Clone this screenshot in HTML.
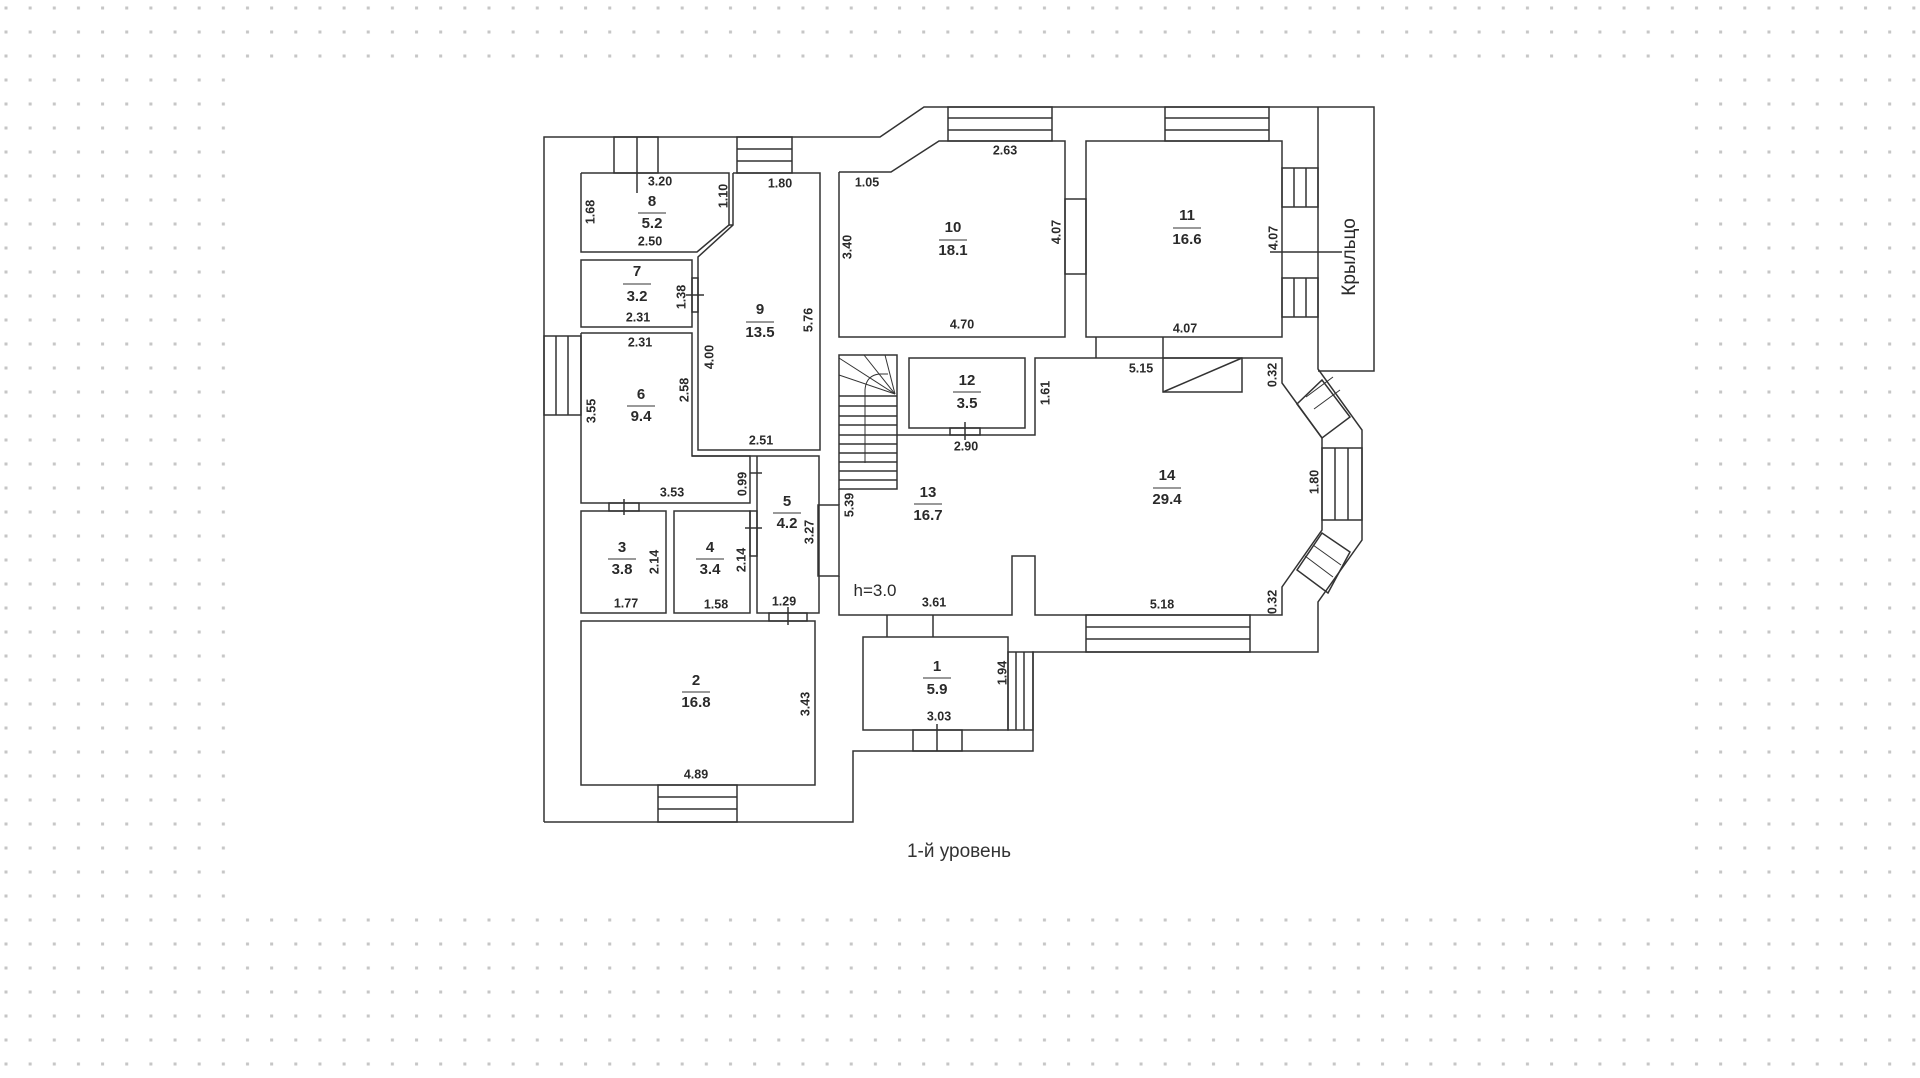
<!DOCTYPE html>
<html><head><meta charset="utf-8"><style>
html,body{margin:0;padding:0;background:#fff;}
svg{display:block}
text{font-family:"Liberation Sans",Arial,sans-serif;fill:#2a2a2a;}
.d{font-size:12.5px;font-weight:bold;text-anchor:middle;dominant-baseline:middle;}
.n{font-size:15px;font-weight:bold;text-anchor:middle;dominant-baseline:middle;}
</style></head><body>
<svg width="1920" height="1078" viewBox="0 0 1920 1078" xmlns="http://www.w3.org/2000/svg">
<defs>
<pattern id="dots" x="0" y="0" width="24.15" height="24" patternUnits="userSpaceOnUse">
<rect x="4.5" y="6.5" width="3" height="3" fill="#c6c6c6"/>
</pattern>
</defs>
<rect x="0" y="0" width="1920" height="68" fill="url(#dots)"/>
<rect x="0" y="68" width="232" height="840" fill="url(#dots)"/>
<rect x="1688" y="68" width="232" height="840" fill="url(#dots)"/>
<rect x="0" y="908" width="1920" height="170" fill="url(#dots)"/>

<g fill="none" stroke="#333" stroke-width="1.5">
<polyline points="544,822 544,137 880,137 924,107 1374,107 1374,371 1318,371"/>
<polyline points="1318,107 1318,369 1362,430 1362,540 1318,602 1318,652 1033,652 1033,751 853,751 853,822 544,822"/>
<polyline points="581,173 729,173 729,225 697,252 581,252 581,173"/>
<polyline points="733,173 820,173 820,450 698,450 698,257 733,225 733,173"/>
<line x1="729" y1="225" x2="733" y2="225"/>
<rect x="614" y="137" width="44" height="36"/>
<line x1="637" y1="137" x2="637" y2="193"/>
<rect x="737" y="137" width="55" height="36"/>
<line x1="737" y1="149" x2="792" y2="149"/><line x1="737" y1="161" x2="792" y2="161"/>
<rect x="581" y="260" width="111" height="67"/>
<rect x="692" y="278" width="6" height="34"/>
<line x1="686" y1="295" x2="704" y2="295"/>
<polyline points="581,333 692,333 692,456 750,456 750,503 581,503 581,333"/>
<rect x="544" y="336" width="37" height="79"/>
<line x1="556" y1="336" x2="556" y2="415"/><line x1="568" y1="336" x2="568" y2="415"/>
<line x1="750" y1="473" x2="762" y2="473"/>
<polyline points="692,456 819,456 819,613 757,613 757,456"/>
<rect x="750" y="511" width="7" height="45"/>
<line x1="745" y1="528" x2="762" y2="528"/>
<rect x="581" y="511" width="85" height="102"/>
<rect x="674" y="511" width="76" height="102"/>
<rect x="609" y="503" width="30" height="8"/>
<line x1="624" y1="499" x2="624" y2="515"/>
<rect x="581" y="621" width="234" height="164"/>
<rect x="769" y="613" width="38" height="8"/>
<line x1="788" y1="607" x2="788" y2="625"/>
<rect x="658" y="785" width="79" height="37"/>
<line x1="658" y1="797" x2="737" y2="797"/><line x1="658" y1="809" x2="737" y2="809"/>
<rect x="818" y="505" width="21" height="71"/>
<polyline points="839,172 891,172 939,141 1065,141 1065,337 839,337 839,172"/>
<rect x="948" y="107" width="104" height="34"/>
<line x1="948" y1="118" x2="1052" y2="118"/><line x1="948" y1="130" x2="1052" y2="130"/>
<rect x="1065" y="199" width="21" height="75"/>
<rect x="1086" y="141" width="196" height="196"/>
<rect x="1165" y="107" width="104" height="34"/>
<line x1="1165" y1="118" x2="1269" y2="118"/><line x1="1165" y1="130" x2="1269" y2="130"/>
<rect x="1282" y="168" width="36" height="39"/>
<line x1="1294" y1="168" x2="1294" y2="207"/><line x1="1306" y1="168" x2="1306" y2="207"/>
<rect x="1282" y="278" width="36" height="39"/>
<line x1="1294" y1="278" x2="1294" y2="317"/><line x1="1306" y1="278" x2="1306" y2="317"/>
<line x1="1270" y1="252" x2="1342" y2="252"/>
<line x1="1096" y1="337" x2="1096" y2="358"/><line x1="1163" y1="337" x2="1163" y2="358"/>
<rect x="839" y="355" width="58" height="134"/>
<line x1="839" y1="396" x2="897" y2="396"/>
<line x1="839" y1="406" x2="897" y2="406"/><line x1="839" y1="416" x2="897" y2="416"/>
<line x1="839" y1="425" x2="897" y2="425"/><line x1="839" y1="435" x2="897" y2="435"/>
<line x1="839" y1="444" x2="897" y2="444"/><line x1="839" y1="453" x2="897" y2="453"/>
<line x1="839" y1="462" x2="897" y2="462"/><line x1="839" y1="471" x2="897" y2="471"/>
<line x1="839" y1="480" x2="897" y2="480"/>
<line x1="895" y1="394" x2="839" y2="375" stroke-width="1"/>
<line x1="895" y1="394" x2="839" y2="358" stroke-width="1"/>
<line x1="895" y1="394" x2="864" y2="355" stroke-width="1"/>
<line x1="895" y1="394" x2="885" y2="355" stroke-width="1"/>
<path d="M865,463 L865,390 Q866,375 880,374 L888,374" stroke-width="1"/>
<rect x="909" y="358" width="116" height="70"/>
<rect x="950" y="428" width="30" height="7"/>
<line x1="965" y1="422" x2="965" y2="440"/>
<polyline points="897,435 1035,435 1035,358 1282,358 1282,383 1322,438 1322,530 1282,587 1282,615 1035,615 1035,556 1012,556 1012,615 839,615 839,576"/>
<line x1="839" y1="489" x2="839" y2="505"/>
<rect x="1163" y="358" width="79" height="34"/>
<line x1="1163" y1="392" x2="1242" y2="358"/>
<polygon points="1297,404 1322,438 1350,417 1322,380"/>
<line x1="1306" y1="397" x2="1333" y2="377" stroke-width="1"/>
<line x1="1314" y1="409" x2="1340" y2="390" stroke-width="1"/>
<rect x="1322" y="448" width="40" height="72"/>
<line x1="1335" y1="448" x2="1335" y2="520"/><line x1="1348" y1="448" x2="1348" y2="520"/>
<polygon points="1322,533 1297,570 1328,593 1350,552"/>
<line x1="1305" y1="556" x2="1333" y2="577" stroke-width="1"/>
<line x1="1313" y1="545" x2="1341" y2="565" stroke-width="1"/>
<rect x="1086" y="615" width="164" height="37"/>
<line x1="1086" y1="627" x2="1250" y2="627"/><line x1="1086" y1="639" x2="1250" y2="639"/>
<rect x="863" y="637" width="145" height="93"/>
<line x1="887" y1="615" x2="887" y2="637"/><line x1="933" y1="615" x2="933" y2="637"/>
<rect x="1008" y="652" width="25" height="78"/>
<line x1="1016" y1="652" x2="1016" y2="730"/><line x1="1024" y1="652" x2="1024" y2="730"/>
<rect x="913" y="730" width="49" height="21"/>
<line x1="937" y1="724" x2="937" y2="751"/>
</g>

<g stroke="#333" stroke-width="1">
<line x1="638" y1="213" x2="666" y2="213"/>
<line x1="623" y1="284" x2="651" y2="284"/>
<line x1="746" y1="322" x2="774" y2="322"/>
<line x1="627" y1="406" x2="655" y2="406"/>
<line x1="773" y1="513" x2="801" y2="513"/>
<line x1="608" y1="559" x2="636" y2="559"/>
<line x1="696" y1="559" x2="724" y2="559"/>
<line x1="682" y1="692" x2="710" y2="692"/>
<line x1="923" y1="678" x2="951" y2="678"/>
<line x1="914" y1="504" x2="942" y2="504"/>
<line x1="953" y1="392" x2="981" y2="392"/>
<line x1="1153" y1="488" x2="1181" y2="488"/>
<line x1="939" y1="240" x2="967" y2="240"/>
<line x1="1173" y1="228" x2="1201" y2="228"/>
</g>

<g>
<text class="d" x="660" y="182">3.20</text>
<text class="n" x="652" y="202">8</text><text class="n" x="652" y="224">5.2</text>
<text class="d" x="650" y="242">2.50</text>
<text class="d" transform="translate(591,212) rotate(-90)">1.68</text>
<text class="d" transform="translate(724,196) rotate(-90)">1.10</text>
<text class="d" x="780" y="184">1.80</text>
<text class="d" x="867" y="183">1.05</text>
<text class="d" transform="translate(848,247) rotate(-90)">3.40</text>
<text class="n" x="953" y="228">10</text><text class="n" x="953" y="251">18.1</text>
<text class="d" transform="translate(1057,232) rotate(-90)">4.07</text>
<text class="d" x="1005" y="151">2.63</text>
<text class="n" x="1187" y="216">11</text><text class="n" x="1187" y="240">16.6</text>
<text class="d" transform="translate(1274,238) rotate(-90)">4.07</text>
<text class="d" x="962" y="325">4.70</text>
<text class="d" x="1185" y="329">4.07</text>
<text transform="translate(1350,257) rotate(-90)" style="font-size:19px;text-anchor:middle;dominant-baseline:middle;">Крыльцо</text>
<text class="n" x="637" y="272">7</text><text class="n" x="637" y="297">3.2</text>
<text class="d" transform="translate(682,297) rotate(-90)">1.38</text>
<text class="d" x="638" y="318">2.31</text>
<text class="d" x="640" y="343">2.31</text>
<text class="n" x="760" y="310">9</text><text class="n" x="760" y="333">13.5</text>
<text class="d" transform="translate(809,320) rotate(-90)">5.76</text>
<text class="d" transform="translate(710,357) rotate(-90)">4.00</text>
<text class="n" x="641" y="395">6</text><text class="n" x="641" y="417">9.4</text>
<text class="d" transform="translate(685,390) rotate(-90)">2.58</text>
<text class="d" transform="translate(592,411) rotate(-90)">3.55</text>
<text class="d" x="761" y="441">2.51</text>
<text class="d" x="672" y="493">3.53</text>
<text class="d" transform="translate(743,484) rotate(-90)">0.99</text>
<text class="n" x="787" y="502">5</text><text class="n" x="787" y="524">4.2</text>
<text class="d" transform="translate(810,532) rotate(-90)">3.27</text>
<text class="n" x="622" y="548">3</text><text class="n" x="622" y="570">3.8</text>
<text class="d" transform="translate(655,562) rotate(-90)">2.14</text>
<text class="n" x="710" y="548">4</text><text class="n" x="710" y="570">3.4</text>
<text class="d" transform="translate(742,560) rotate(-90)">2.14</text>
<text class="d" x="626" y="604">1.77</text>
<text class="d" x="716" y="605">1.58</text>
<text class="d" x="784" y="602">1.29</text>
<text class="n" x="696" y="681">2</text><text class="n" x="696" y="703">16.8</text>
<text class="d" transform="translate(806,704) rotate(-90)">3.43</text>
<text class="d" x="696" y="775">4.89</text>
<text class="d" transform="translate(850,505) rotate(-90)">5.39</text>
<text x="875" y="596" style="font-size:17px;text-anchor:middle;">h=3.0</text>
<text class="d" x="934" y="603">3.61</text>
<text class="n" x="928" y="493">13</text><text class="n" x="928" y="516">16.7</text>
<text class="n" x="937" y="667">1</text><text class="n" x="937" y="690">5.9</text>
<text class="d" x="939" y="717">3.03</text>
<text class="d" transform="translate(1003,673) rotate(-90)">1.94</text>
<text class="n" x="967" y="381">12</text><text class="n" x="967" y="404">3.5</text>
<text class="d" x="966" y="447">2.90</text>
<text class="d" transform="translate(1046,393) rotate(-90)">1.61</text>
<text class="d" x="1141" y="369">5.15</text>
<text class="d" transform="translate(1273,375) rotate(-90)">0.32</text>
<text class="n" x="1167" y="476">14</text><text class="n" x="1167" y="500">29.4</text>
<text class="d" transform="translate(1315,482) rotate(-90)">1.80</text>
<text class="d" x="1162" y="605">5.18</text>
<text class="d" transform="translate(1273,602) rotate(-90)">0.32</text>
<text x="959" y="857" style="font-size:19px;text-anchor:middle;fill:#333;">1-й уровень</text>
</g>
</svg>
</body></html>
